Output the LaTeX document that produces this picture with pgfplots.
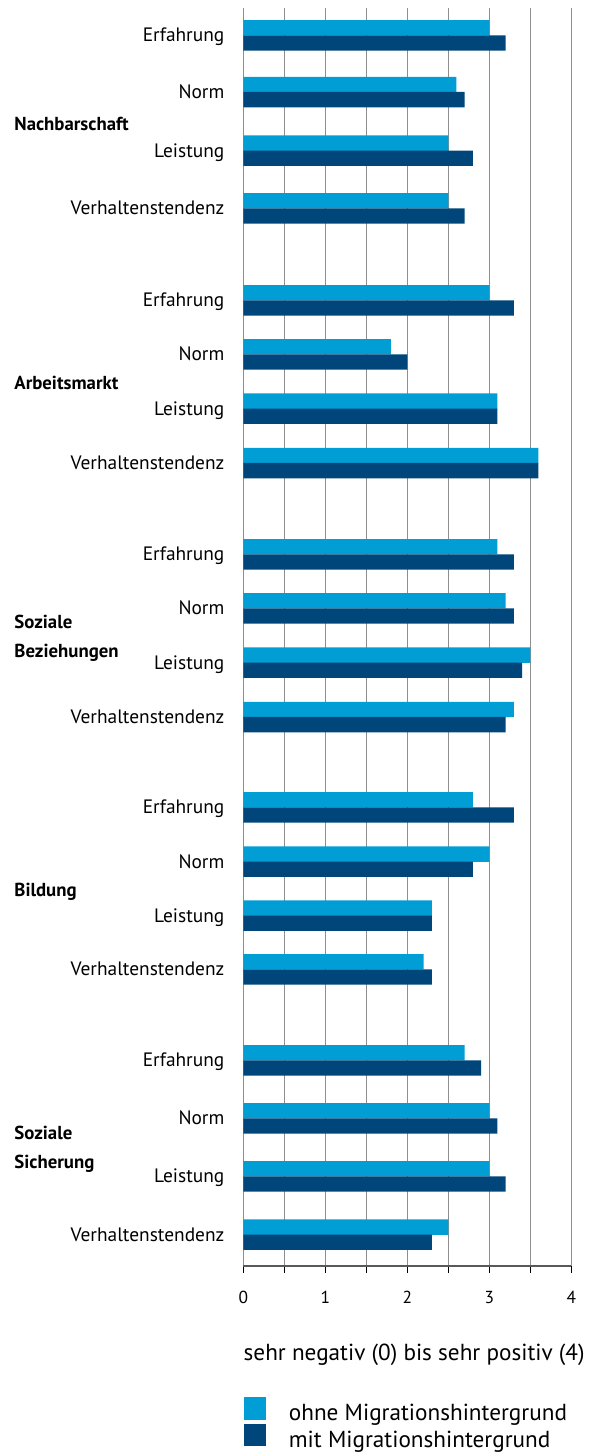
\documentclass[border=0pt]{standalone}
\usepackage{fontspec}
\setmainfont{PT Sans}
\usepackage{pgfplots}
\pgfplotsset{compat=1.18}
\definecolor{lightb}{HTML}{009ED5}
\definecolor{darkb}{HTML}{00467A}
\definecolor{gridc}{HTML}{8E8E8E}
\begin{document}
\begin{tikzpicture}
\useasboundingbox (0pt,0pt) rectangle (297pt,-726.5pt);
\begin{axis}[
  at={(121.65pt,-4pt)}, anchor=north west,
  scale only axis, width=164pt, height=629pt,
  xmin=0, xmax=4, ymin=-1266, ymax=-8,
  xbar, bar width=7.65pt, bar shift=0pt,
  axis x line*=bottom, axis y line*=left,
  y axis line style={draw=none},
  x axis line style={-, draw=black!65, line width=0.8pt},
  xtick={0,0.5,1,1.5,2,2.5,3,3.5,4},
  xticklabels={0,,1,,2,,3,,4},
  xmajorgrids, grid style={gridc, line width=0.6pt},
  tick align=outside, major tick length=3.6pt,
  xtick style={black, line width=0.6pt},
  ytick style={draw=none},
  /pgf/number format/assume math mode=true,
  xticklabel style={font=\fontsize{8.7}{10}\selectfont, anchor=base, yshift=-15pt},
  ytick={-35.3,-92,-150.7,-208.3,-300.3,-354.3,-408.7,-463,-554.3,-608.3,-662.7,-717,-807.3,-861.7,-915.7,-969.3,-1060.3,-1118.3,-1176.3,-1234.7},
  yticklabels={Erfahrung,Norm,Leistung,Verhaltenstendenz,Erfahrung,Norm,Leistung,Verhaltenstendenz,Erfahrung,Norm,Leistung,Verhaltenstendenz,Erfahrung,Norm,Leistung,Verhaltenstendenz,Erfahrung,Norm,Leistung,Verhaltenstendenz},
  yticklabel style={font=\fontsize{9.7}{11}\selectfont, anchor=base east, xshift=-2.35pt, yshift=-3.33pt},
  legend style={at={(axis description cs:0,-0.1039)}, anchor=north west, draw=none, fill=none, inner sep=0pt, row sep=0.1pt, font=\fontsize{11.6}{13}\selectfont, nodes={inner sep=0pt}},
  legend cell align=left,
  legend image code/.code={\fill[#1] (0pt,-2.9pt) rectangle (11.3pt,8.4pt);},
]
\addplot[fill=lightb, draw=none] coordinates {
(3.0,-27.7) (2.6,-84.4) (2.5,-143.1) (2.5,-200.7)
(3.0,-292.7) (1.8,-346.7) (3.1,-401.1) (3.6,-455.4)
(3.1,-546.7) (3.2,-600.7) (3.5,-655.1) (3.3,-709.4)
(2.8,-799.7) (3.0,-854.1) (2.3,-908.1) (2.2,-961.7)
(2.7,-1052.7) (3.0,-1110.7) (3.0,-1168.7) (2.5,-1227.1)};
\addlegendentry{\hspace*{11.3pt}ohne Migrationshintergrund}
\addplot[fill=darkb, draw=none] coordinates {
(3.2,-42.9) (2.7,-99.6) (2.8,-158.3) (2.7,-215.9)
(3.3,-307.9) (2.0,-361.9) (3.1,-416.3) (3.6,-470.6)
(3.3,-561.9) (3.3,-615.9) (3.4,-670.3) (3.2,-724.6)
(3.3,-814.9) (2.8,-869.3) (2.3,-923.3) (2.3,-976.9)
(2.9,-1067.9) (3.1,-1125.9) (3.2,-1183.9) (2.3,-1242.3)};
\addlegendentry{\hspace*{11.3pt}mit Migrationshintergrund}
\end{axis}
\begin{scope}[every node/.style={inner sep=0pt, anchor=base west, font=\fontsize{9.4}{14.4}\selectfont\bfseries, align=left}]
\node at (7pt,-65.2pt) {Nachbarschaft};
\node at (7pt,-194.5pt) {Arbeitsmarkt};
\node at (7pt,-328.5pt) {Soziale\\Beziehungen};
\node at (7pt,-448pt) {Bildung};
\node at (7pt,-584.3pt) {Soziale\\Sicherung};
\end{scope}
\node[inner sep=0pt, anchor=base west, font=\fontsize{11.6}{13}\selectfont] at (121.65pt,-680pt) {sehr negativ (0) bis sehr positiv (4)};
\end{tikzpicture}
\end{document}
